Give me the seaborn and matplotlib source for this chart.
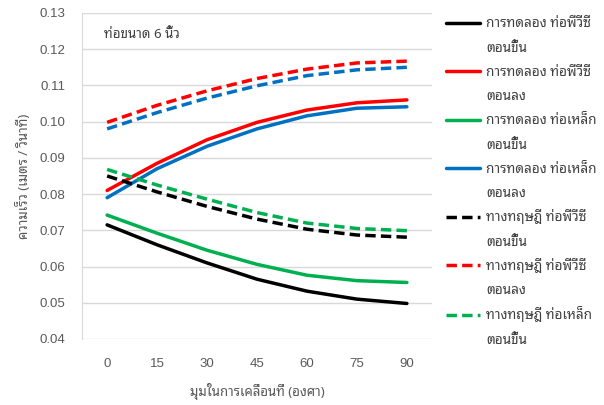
import matplotlib
matplotlib.use("Agg")
import matplotlib.pyplot as plt
from matplotlib.lines import Line2D
import pandas as pd
import seaborn as sns

angles = [0, 15, 30, 45, 60, 75, 90]

exp_pvc_up = [0.0715, 0.0660, 0.0610, 0.0565, 0.0532, 0.0510, 0.0498]
exp_pvc_down = [0.0810, 0.0885, 0.0950, 0.0998, 0.1032, 0.1052, 0.1060]
exp_steel_up = [0.0742, 0.0692, 0.0645, 0.0606, 0.0576, 0.0561, 0.0556]
exp_steel_down = [0.0790, 0.0870, 0.0932, 0.0980, 0.1016, 0.1037, 0.1041]
th_pvc_up = [0.0850, 0.0806, 0.0766, 0.0731, 0.0703, 0.0687, 0.0681]
th_pvc_down = [0.0998, 0.1045, 0.1085, 0.1119, 0.1145, 0.1162, 0.1167]
th_steel_up = [0.0868, 0.0825, 0.0786, 0.0749, 0.0720, 0.0705, 0.0699]
th_steel_down = [0.0980, 0.1025, 0.1065, 0.1099, 0.1127, 0.1143, 0.1150]

labels = [
    "การทดลอง ท่อพีวีซี\nตอนขึ้น",
    "การทดลอง ท่อพีวีซี\nตอนลง",
    "การทดลอง ท่อเหล็ก\nตอนขึ้น",
    "การทดลอง ท่อเหล็ก\nตอนลง",
    "ทางทฤษฎี ท่อพีวีซี\nตอนขึ้น",
    "ทางทฤษฎี ท่อพีวีซี\nตอนลง",
    "ทางทฤษฎี ท่อเหล็ก\nตอนขึ้น",
    "ทางทฤษฎี ท่อเหล็ก\nตอนลง",
]
series = [exp_pvc_up, exp_pvc_down, exp_steel_up, exp_steel_down,
          th_pvc_up, th_pvc_down, th_steel_up, th_steel_down]
colors = ["#000000", "#ff0000", "#00b050", "#0070c0"] * 2
dashed = [False] * 4 + [True] * 4

sns.set_style("white")
plt.rcParams["font.family"] = ["Noto Sans Thai Looped", "Liberation Sans", "DejaVu Sans"]

fig = plt.figure(figsize=(6.04, 4.05), dpi=100)
ax = fig.add_axes([0.136, 0.163, 0.579, 0.805])

for vals, lab, c, d in zip(series, labels, colors, dashed):
    df = pd.DataFrame({"angle": angles, "v": vals})
    sns.lineplot(data=df, x="angle", y="v", ax=ax, color=c, linewidth=2.5,
                 linestyle=(0, (3, 1.5)) if d else "-", legend=False)

ax.set_xlim(-7.5, 97.5)
ax.set_ylim(0.04, 0.13)
ax.set_xticks(angles)
ax.set_yticks([0.04 + 0.01 * i for i in range(10)])
ax.yaxis.set_major_formatter(matplotlib.ticker.FormatStrFormatter("%.2f"))
ax.grid(axis="y", color="#d9d9d9", linewidth=1)
for s in ["top", "right", "bottom"]:
    ax.spines[s].set_visible(False)
ax.spines["left"].set_color("#d9d9d9")
ax.tick_params(axis="both", labelsize=9.5, colors="#595959", length=0)
ax.tick_params(axis="y", pad=12)
ax.tick_params(axis="x", pad=14)
for t in ax.get_xticklabels() + ax.get_yticklabels():
    t.set_family("Liberation Sans")
ax.set_xlabel("มุมในการเคลื่อนที่ (องศา)", fontsize=9.5, color="#595959", labelpad=9)
ax.set_ylabel("ความเร็ว (เมตร / วินาที)", fontsize=9.5, color="#595959", labelpad=6)
ax.text(0.063, 0.935, "ท่อขนาด 6 นิ้ว", transform=ax.transAxes, fontsize=9.6,
        color="#404040", va="center")

handles, texts = [], []
for lab, c, d in list(zip(labels, colors, dashed))[:7]:
    first, second = lab.split("\n")
    handles.append(Line2D([], [], color=c, linewidth=2.5,
                          linestyle=(0, (3, 1.5)) if d else "-"))
    texts.append(first)
    handles.append(Line2D([], [], alpha=0))
    texts.append(second)
leg = fig.legend(handles, texts, loc="upper left", bbox_to_anchor=(0.718, 0.99),
                 frameon=False, fontsize=9.8, handlelength=2.5, handletextpad=0.45,
                 labelspacing=0.68, labelcolor="#404040")

fig.savefig("out.png", dpi=100)
